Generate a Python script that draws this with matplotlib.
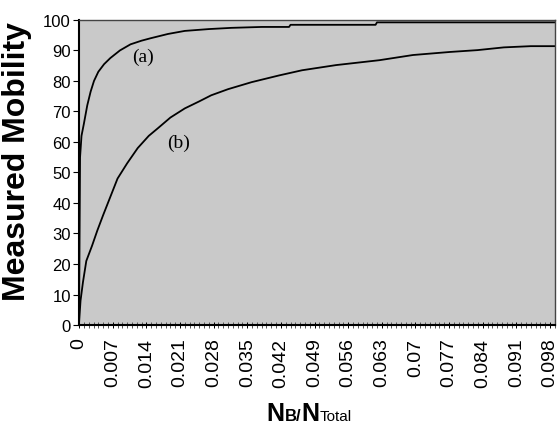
import numpy as np
import matplotlib
matplotlib.use('agg')
from matplotlib import pyplot as plt
from matplotlib.ticker import MultipleLocator, FixedLocator
from matplotlib.offsetbox import TextArea, HPacker, AnchoredOffsetbox

plt.rcParams['font.family'] = ['Liberation Sans', 'DejaVu Sans']

# curve (a): steep rise
a_x = [0.0, 0.0001, 0.0002, 0.0005, 0.0010, 0.0017, 0.0024, 0.0031, 0.0040, 0.0052,
       0.0065, 0.0085, 0.0107, 0.0130, 0.0149, 0.0185, 0.0220, 0.0270, 0.0317, 0.0380,
       0.0437, 0.0440, 0.0617, 0.0620, 0.0990]
a_y = [5, 30, 55, 62, 66, 72, 76.5, 80, 83, 85.5,
       87.5, 90, 92, 93.2, 94, 95.4, 96.4, 97, 97.4, 97.7,
       97.7, 98.4, 98.4, 99.2, 99.2]

# curve (b): slower rise
b_x = [0.0, 0.0003, 0.0008, 0.0015, 0.0027, 0.0038, 0.0050, 0.0065, 0.0080, 0.0100,
       0.0122, 0.0145, 0.0164, 0.0190, 0.0220, 0.0250, 0.0275, 0.0310, 0.0359, 0.0416,
       0.0464, 0.0535, 0.0625, 0.0695, 0.0772, 0.0829, 0.0884, 0.0940, 0.0990]
b_y = [1, 8, 14, 21, 26, 31, 36, 42, 48, 53,
       58, 62, 64.5, 68, 71, 73.3, 75.3, 77.3, 79.6, 81.8,
       83.5, 85.2, 86.8, 88.5, 89.5, 90.1, 91, 91.4, 91.4]

x_ticks = [round(0.007 * i, 3) for i in range(15)]
x_labels = ['0' if t == 0 else ('%g' % t) for t in x_ticks]
y_ticks = list(range(0, 101, 10))

fig = plt.figure(figsize=(5.57, 4.27), dpi=100)
ax = fig.add_axes([0.142, 0.2365, 0.854, 0.7145])
ax.set_facecolor('#c9c9c9')

ax.plot(a_x, a_y, color='black', lw=1.3)
ax.plot(b_x, b_y, color='black', lw=1.3)

ax.text(0.0134, 88, '(a)', family='Liberation Serif', fontsize=14, ha='center', va='center')
ax.text(0.0208, 60, '(b)', family='Liberation Serif', fontsize=14, ha='center', va='center')

ax.set_xlim(0, 0.099)
ax.set_ylim(0, 100)
ax.xaxis.set_major_locator(FixedLocator(x_ticks))
ax.xaxis.set_minor_locator(MultipleLocator(0.001))
ax.set_xticklabels(x_labels, rotation=90, fontsize=14, va='top')
ax.set_yticks(y_ticks)
ax.tick_params(axis='y', labelsize=12, length=4, direction='out', pad=2)
ax.tick_params(axis='x', which='both', length=4, direction='inout', width=0.7, pad=7)
ax.tick_params(axis='x', which='minor', color='#555555')

for s in ax.spines.values():
    s.set_linewidth(1.0)
ax.spines['top'].set_color('#444444')
ax.spines['right'].set_color('#444444')
ax.spines['left'].set_linewidth(1.5)
ax.spines['bottom'].set_linewidth(1.5)

ax.set_ylabel('Measured Mobility', fontsize=23, fontweight='bold')
ax.yaxis.set_label_coords(-0.098, 0.54)

parts = [TextArea('N', textprops=dict(fontsize=18, fontweight='bold')),
         TextArea('B/', textprops=dict(fontsize=12, fontweight='bold')),
         TextArea('N', textprops=dict(fontsize=18, fontweight='bold')),
         TextArea('Total', textprops=dict(fontsize=11))]
box = HPacker(children=parts, align='baseline', pad=0, sep=0)
anch = AnchoredOffsetbox(loc='center', child=box, frameon=False,
                         bbox_to_anchor=(0.555, 0.03), bbox_transform=fig.transFigure)
fig.add_artist(anch)

fig.savefig('out.png', dpi=100)
